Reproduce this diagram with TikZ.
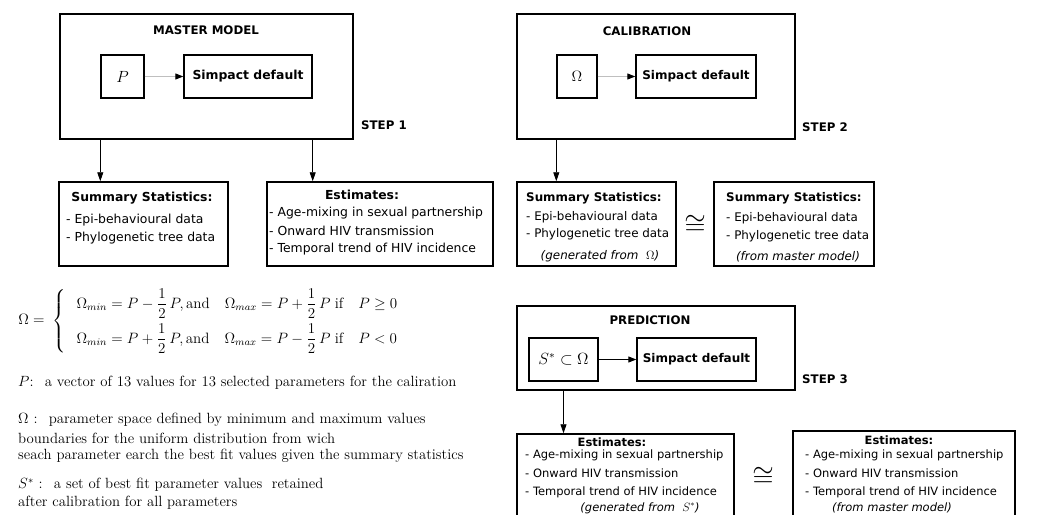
\documentclass[tikz,border=0pt]{standalone}
\usepackage{amsmath}
\usepackage{graphicx}
\usepackage{fontspec}
\setsansfont{DejaVu Sans}
\usetikzlibrary{arrows.meta}
\tikzset{
  outerbox/.style={draw, line width=1.6pt, inner sep=0pt},
  innerbox/.style={draw, line width=1.4pt, inner sep=0pt},
  databox/.style={draw, line width=1.5pt, inner sep=0pt},
  txt/.style={inner sep=0pt, font=\sffamily\fontsize{12.4}{14}\selectfont},
  txtc/.style={inner sep=0pt, font=\sffamily\fontsize{11.9}{14}\selectfont},
  txtp/.style={inner sep=0pt, font=\sffamily\fontsize{11.5}{14}\selectfont},
  ttl/.style={inner sep=0pt, font=\sffamily\bfseries\fontsize{11.8}{14}\selectfont},
  desc/.style={inner sep=0pt, anchor=west, font=\fontsize{12}{14}\selectfont, scale=1.233},
  arr/.style={line width=0.9pt, -{Triangle[length=9pt,width=6pt]}},
  garr/.style={line width=0.9pt, draw=black!25, -{Triangle[length=8pt,width=6pt,color=black,fill=black]}},
  barr/.style={line width=0.9pt, -{Triangle[length=8pt,width=6pt]}},
  approx/.style={inner sep=0pt, font=\fontsize{12}{14}\selectfont, scale=2.3}
}
\begin{document}
\begin{tikzpicture}[x=1pt,y=-1pt]
\useasboundingbox (0,0) rectangle (1054,514);
\clip (0,0) rectangle (1054,514);
\fill[white] (0,0) rectangle (1054,514);

% ---------- STEP 1 : master model ----------
\node[outerbox, minimum width=293, minimum height=125] (master) at (206.5,76.5) {};
\node[ttl] (masterT) at (206,30) {MASTER MODEL};
\node[innerbox, minimum width=43, minimum height=43, font=\fontsize{12}{14}\selectfont] (pbox) at (122.5,76.5) {\scalebox{1.35}{$P$}};
\node[innerbox, minimum width=128, minimum height=43, font=\sffamily\bfseries\fontsize{12.4}{14}\selectfont] (sim1) at (248,76.5) {Simpact default};
\draw[garr] (pbox) -- (sim1);
\node[ttl, anchor=west] (step1) at (361,125) {STEP 1};

\node[databox, minimum width=169, minimum height=84] (sum1) at (143.5,224) {};
\node[txt, font=\sffamily\bfseries\fontsize{12.4}{14}\selectfont] (sum1T) at (142,198) {Summary Statistics:};
\node[txt, anchor=west] (sum1a) at (66,220) {- Epi-behavioural data};
\node[txt, anchor=west] (sum1b) at (66,238) {- Phylogenetic tree data};

\node[databox, minimum width=226, minimum height=84] (est1) at (380,224) {};
\node[txt, font=\sffamily\bfseries\fontsize{12.4}{14}\selectfont] (est1T) at (362,195) {Estimates:};
\node[txt, anchor=west] (est1a) at (269,213) {- Age-mixing in sexual partnership};
\node[txt, anchor=west] (est1b) at (269,231) {- Onward HIV transmission};
\node[txt, anchor=west] (est1c) at (269,249) {- Temporal trend of HIV incidence};

\draw[arr] (master.south -| pbox.west) -- (sum1.north -| pbox.west);
\draw[arr] (master.south -| sim1.east) -- (est1.north -| sim1.east);

% ---------- formula and legend ----------
\node[inner sep=0pt, anchor=west, scale=1.25] (formula) at (18,321) {\fontsize{12}{14}\selectfont
$\Omega =\; \left\{\;\begin{array}{l}
\Omega_{min} = P - \dfrac{1}{2}\,P,\text{and}\quad \Omega_{max} = P + \dfrac{1}{2}\,P\;\text{if}\quad P \geq 0\\[8pt]
\Omega_{min} = P + \dfrac{1}{2}\,P,\text{and}\quad \Omega_{max} = P - \dfrac{1}{2}\,P\;\text{if}\quad P < 0
\end{array}\right.$};
\node[desc] (descP) at (18,383) {$P$:~ a vector of 13 values for 13 selected parameters for the caliration};
\node[desc] (descO1) at (18,420) {$\Omega$ :~ parameter space defined by minimum and maximum values};
\node[desc] (descO2) at (18,438) {boundaries for the uniform distribution from wich};
\node[desc] (descO3) at (18,456) {seach parameter earch the best fit values given the summary statistics};
\node[desc] (descS1) at (18,485) {$S^{*}$ :~ a set of best fit parameter values~ retained};
\node[desc] (descS2) at (18,503) {after calibration for all parameters};

% ---------- STEP 2 : calibration ----------
\node[outerbox, minimum width=278, minimum height=125] (calib) at (656,76.5) {};
\node[ttl] (calibT) at (647,31) {CALIBRATION};
\node[innerbox, minimum width=40, minimum height=43, font=\fontsize{12}{14}\selectfont] (obox) at (577,76.5) {\scalebox{1.25}{$\Omega$}};
\node[innerbox, minimum width=120, minimum height=43, font=\sffamily\bfseries\fontsize{12}{14}\selectfont] (sim2) at (696,76.5) {Simpact default};
\draw[garr] (obox) -- (sim2);
\node[ttl, anchor=west] (step2) at (802,127) {STEP 2};

\node[databox, minimum width=159, minimum height=84] (sum2) at (596.5,224) {};
\node[txtc, font=\sffamily\bfseries\fontsize{11.9}{14}\selectfont, anchor=west] (sum2T) at (526,198) {Summary Statistics:};
\node[txtc, anchor=west] (sum2a) at (526,217) {- Epi-behavioural data};
\node[txtc, anchor=west] (sum2b) at (526,234) {- Phylogenetic tree data};
\node[txtc, font=\sffamily\itshape\fontsize{11.9}{14}\selectfont] (sum2c) at (600,256) {(generated from ~$\Omega$)};

\node[approx] (cong1) at (695,225) {$\cong$};

\node[databox, minimum width=160, minimum height=84] (sum3) at (794,224) {};
\node[txtc, font=\sffamily\bfseries\fontsize{11.9}{14}\selectfont, anchor=west] (sum3T) at (726,198) {Summary Statistics:};
\node[txtc, anchor=west] (sum3a) at (726,218) {- Epi-behavioural data};
\node[txtc, anchor=west] (sum3b) at (726,236) {- Phylogenetic tree data};
\node[txtc, font=\sffamily\itshape\fontsize{11.9}{14}\selectfont] (sum3c) at (798,257) {(from master model)};

\draw[arr] (calib.south -| obox.west) -- (sum2.north -| obox.west);

% ---------- STEP 3 : prediction ----------
\node[outerbox, minimum width=278, minimum height=84] (pred) at (656,348) {};
\node[ttl] (predT) at (650,320) {PREDICTION};
\node[innerbox, minimum width=69, minimum height=43, font=\fontsize{12}{14}\selectfont] (sbox) at (563.5,359.5) {\scalebox{1.35}{$S^{*}\subset\Omega$}};
\node[innerbox, minimum width=119, minimum height=43, font=\sffamily\bfseries\fontsize{12}{14}\selectfont] (sim3) at (696.5,359.5) {Simpact default};
\draw[barr] (sbox) -- (sim3);
\node[ttl, anchor=west] (step3) at (802,379) {STEP 3};

\node[databox, minimum width=217, minimum height=106] (est2) at (625.5,487) {};
\node[txtp, font=\sffamily\bfseries\fontsize{11.5}{14}\selectfont] (est2T) at (612,442) {Estimates:};
\node[txtp, anchor=west] (est2a) at (525,455) {- Age-mixing in sexual partnership};
\node[txtp, anchor=west] (est2b) at (525,473) {- Onward HIV transmission};
\node[txtp, anchor=west] (est2c) at (525,492) {- Temporal trend of HIV incidence};
\node[txtp, font=\sffamily\itshape\fontsize{11.5}{14}\selectfont] (est2d) at (640,508) {(generated from ~$S^{*}$)};

\node[approx] (cong2) at (763,477) {$\cong$};

\node[databox, minimum width=222, minimum height=109] (est3) at (904,485.5) {};
\node[txtp, font=\sffamily\bfseries\fontsize{11.5}{14}\selectfont] (est3T) at (899,440) {Estimates:};
\node[txtp, anchor=west] (est3a) at (805,455) {- Age-mixing in sexual partnership};
\node[txtp, anchor=west] (est3b) at (805,473) {- Onward HIV transmission};
\node[txtp, anchor=west] (est3c) at (805,492) {- Temporal trend of HIV incidence};
\node[txtp, font=\sffamily\itshape\fontsize{11.5}{14}\selectfont] (est3d) at (892,508) {(from master model)};

\draw[arr] (pred.south -| sbox.center) -- (est2.north -| sbox.center);
\end{tikzpicture}
\end{document}
